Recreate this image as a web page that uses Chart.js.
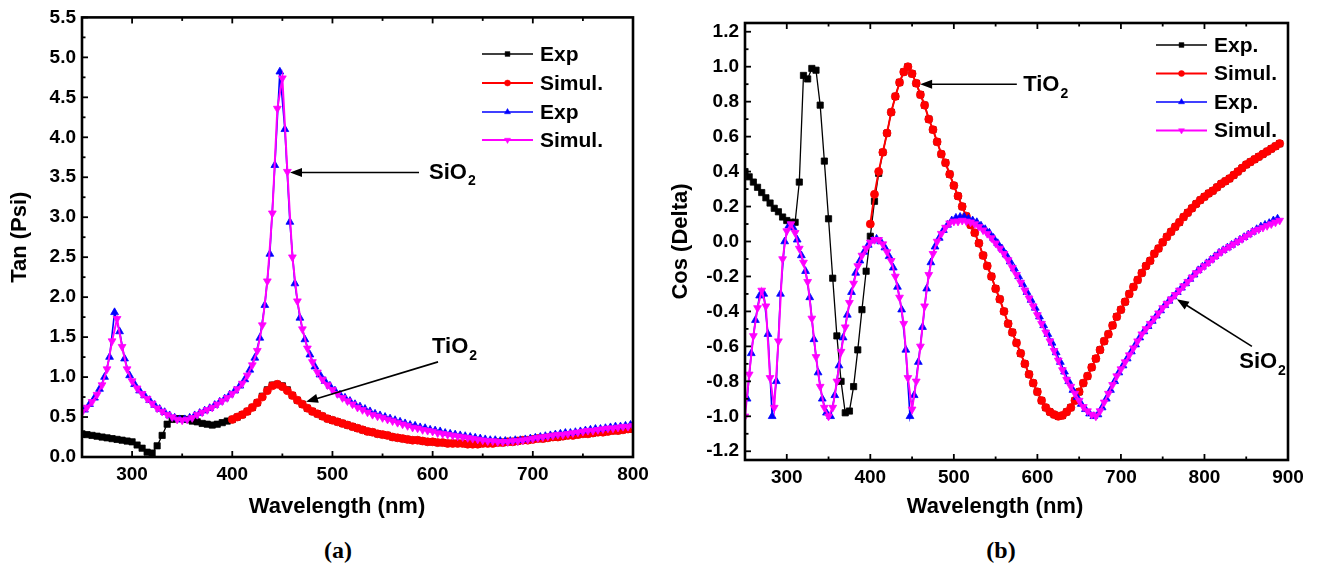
<!DOCTYPE html>
<html>
<head>
<meta charset="utf-8">
<script src="https://cdn.jsdelivr.net/npm/chart.js@4.4.0/dist/chart.umd.min.js"></script>
<style>
  html, body { margin: 0; padding: 0; background: #fff; }
  body { width: 1318px; height: 564px; position: relative; overflow: hidden; }
  .panel { position: absolute; top: 0; height: 530px; }
  #panelA { left: 0; width: 660px; }
  #panelB { left: 660px; width: 658px; }
  .caption { position: absolute; top: 537px; width: 60px; line-height: 28px; text-align: center;
             font: bold 24px "Liberation Serif", "Times New Roman", serif; color: #000; }
</style>
</head>
<body>
<div class="panel" id="panelA"><canvas id="chartA" width="660" height="530"></canvas></div>
<div class="panel" id="panelB"><canvas id="chartB" width="658" height="530"></canvas></div>
<div class="caption" style="left:308px">(a)</div>
<div class="caption" style="left:971px">(b)</div>
<script>
// wavelength step of every series (nm)
const STEP = 5;

// ---- (a) Tan (Psi) ----
const xTicksA = [300, 400, 500, 600, 700, 800];
const yTicksA = [0, 0.5, 1, 1.5, 2, 2.5, 3, 3.5, 4, 4.5, 5, 5.5];
const legendA = ['Exp', 'Simul.', 'Exp', 'Simul.'];

// TiO2 experiment, starts at 250 nm
const tanExpTiO2 = [
  0.29, 0.28, 0.27, 0.26, 0.25, 0.24, 0.23, 0.22, 0.21, 0.20,
  0.19, 0.15, 0.11, 0.06, 0.05, 0.14, 0.27, 0.41, 0.47, 0.48,
  0.48, 0.47, 0.45, 0.44, 0.42, 0.41, 0.40, 0.41, 0.43, 0.45,
  0.47, 0.50, 0.53, 0.57, 0.62, 0.68, 0.76, 0.84, 0.90, 0.91,
  0.89, 0.84, 0.77, 0.71, 0.66, 0.61, 0.57, 0.54, 0.51, 0.48,
  0.46, 0.44, 0.42, 0.40, 0.38, 0.36, 0.34, 0.32, 0.31, 0.29,
  0.28, 0.27, 0.25, 0.24, 0.23, 0.22, 0.21, 0.21, 0.20, 0.19,
  0.19, 0.18, 0.18, 0.17, 0.17, 0.17, 0.17, 0.16, 0.16, 0.16,
  0.17, 0.17, 0.17, 0.18, 0.18, 0.19, 0.19, 0.20, 0.21, 0.21,
  0.22, 0.23, 0.23, 0.24, 0.25, 0.25, 0.26, 0.27, 0.27, 0.28,
  0.29, 0.29, 0.30, 0.31, 0.31, 0.32, 0.33, 0.33, 0.34, 0.35,
  0.35
];
// TiO2 simulation, starts at 400 nm
const tanSimTiO2 = [
  0.47, 0.50, 0.53, 0.57, 0.62, 0.68, 0.75, 0.83, 0.89, 0.91,
  0.88, 0.83, 0.77, 0.71, 0.66, 0.61, 0.57, 0.54, 0.51, 0.48,
  0.46, 0.44, 0.42, 0.40, 0.38, 0.36, 0.34, 0.32, 0.31, 0.29,
  0.28, 0.27, 0.25, 0.24, 0.23, 0.22, 0.21, 0.21, 0.20, 0.19,
  0.19, 0.18, 0.18, 0.17, 0.17, 0.17, 0.17, 0.16, 0.16, 0.16,
  0.17, 0.17, 0.17, 0.18, 0.18, 0.19, 0.19, 0.20, 0.21, 0.21,
  0.22, 0.23, 0.23, 0.24, 0.25, 0.25, 0.26, 0.27, 0.27, 0.28,
  0.29, 0.29, 0.30, 0.31, 0.31, 0.32, 0.33, 0.33, 0.34, 0.35,
  0.35
];
// SiO2 experiment, starts at 252.5 nm
const tanExpSiO2 = [
  0.59, 0.66, 0.74, 0.85, 1.00, 1.25, 1.81, 1.57, 1.23, 1.02,
  0.91, 0.83, 0.77, 0.71, 0.65, 0.60, 0.56, 0.52, 0.49, 0.47,
  0.47, 0.49, 0.52, 0.55, 0.58, 0.61, 0.65, 0.69, 0.73, 0.78,
  0.83, 0.89, 0.97, 1.09, 1.24, 1.49, 1.90, 2.54, 3.65, 4.82,
  4.10, 2.94, 2.17, 1.74, 1.47, 1.28, 1.13, 1.03, 0.95, 0.89,
  0.83, 0.78, 0.74, 0.70, 0.66, 0.63, 0.60, 0.57, 0.54, 0.52,
  0.50, 0.48, 0.46, 0.44, 0.42, 0.40, 0.39, 0.37, 0.36, 0.34,
  0.33, 0.32, 0.30, 0.29, 0.28, 0.27, 0.26, 0.25, 0.24, 0.23,
  0.22, 0.21, 0.21, 0.20, 0.20, 0.20, 0.21, 0.21, 0.22, 0.23,
  0.24, 0.25, 0.26, 0.27, 0.28, 0.29, 0.30, 0.30, 0.31, 0.32,
  0.33, 0.34, 0.35, 0.35, 0.36, 0.37, 0.38, 0.38, 0.39, 0.40
];
// SiO2 simulation, starts at 250 nm
const tanSimSiO2 = [
  0.56, 0.62, 0.69, 0.78, 0.90, 1.10, 1.45, 1.73, 1.38, 1.10,
  0.95, 0.86, 0.79, 0.73, 0.67, 0.61, 0.57, 0.53, 0.50, 0.47,
  0.46, 0.47, 0.49, 0.53, 0.56, 0.59, 0.62, 0.66, 0.70, 0.74,
  0.79, 0.85, 0.92, 1.02, 1.15, 1.33, 1.65, 2.20, 3.05, 4.36,
  4.74, 3.57, 2.50, 1.95, 1.60, 1.36, 1.19, 1.06, 0.97, 0.90,
  0.84, 0.79, 0.74, 0.70, 0.66, 0.62, 0.59, 0.56, 0.53, 0.51,
  0.49, 0.47, 0.45, 0.43, 0.41, 0.39, 0.37, 0.36, 0.34, 0.33,
  0.32, 0.30, 0.29, 0.28, 0.27, 0.26, 0.25, 0.24, 0.23, 0.22,
  0.21, 0.20, 0.20, 0.19, 0.19, 0.19, 0.20, 0.20, 0.21, 0.22,
  0.23, 0.24, 0.25, 0.26, 0.27, 0.28, 0.28, 0.29, 0.30, 0.31,
  0.32, 0.33, 0.33, 0.34, 0.35, 0.36, 0.36, 0.37, 0.38, 0.38,
  0.39
];

// ---- (b) Cos (Delta) ----
const xTicksB = [300, 400, 500, 600, 700, 800, 900];
const yTicksB = [-1.2, -1.0, -0.8, -0.6, -0.4, -0.2, 0, 0.2, 0.4, 0.6, 0.8, 1.0, 1.2];
const legendB = ['Exp.', 'Simul.', 'Exp.', 'Simul.'];

// TiO2 experiment, starts at 250 nm
const cosExpTiO2 = [
  0.40, 0.37, 0.34, 0.31, 0.28, 0.25, 0.22, 0.19, 0.17, 0.14,
  0.12, 0.11, 0.11, 0.34, 0.95, 0.93, 0.99, 0.98, 0.78, 0.46,
  0.13, -0.21, -0.54, -0.80, -0.98, -0.97, -0.83, -0.62, -0.39, -0.17,
  0.03, 0.23, 0.39, 0.51, 0.62, 0.74, 0.83, 0.91, 0.97, 1.00,
  0.96, 0.905, 0.84, 0.78, 0.70, 0.64, 0.57, 0.50, 0.45, 0.385,
  0.32, 0.26, 0.20, 0.145, 0.095, 0.05, -0.01, -0.08, -0.14, -0.20,
  -0.27, -0.33, -0.40, -0.47, -0.52, -0.58, -0.64, -0.70, -0.76, -0.81,
  -0.86, -0.91, -0.95, -0.975, -0.99, -1.0, -0.995, -0.975, -0.95, -0.91,
  -0.86, -0.81, -0.77, -0.72, -0.67, -0.62, -0.57, -0.53, -0.48, -0.43,
  -0.39, -0.345, -0.30, -0.26, -0.22, -0.18, -0.14, -0.11, -0.07, -0.04,
  -0.005, 0.027, 0.056, 0.084, 0.11, 0.14, 0.165, 0.19, 0.215, 0.237,
  0.256, 0.275, 0.29, 0.31, 0.33, 0.345, 0.36, 0.38, 0.40, 0.42,
  0.44, 0.455, 0.47, 0.485, 0.50, 0.515, 0.53, 0.545, 0.56
];
// TiO2 simulation, starts at 400 nm
const cosSimTiO2 = [
  0.10, 0.27, 0.40, 0.51, 0.62, 0.74, 0.83, 0.91, 0.97, 1.00,
  0.96, 0.905, 0.84, 0.78, 0.70, 0.64, 0.57, 0.50, 0.45, 0.385,
  0.32, 0.26, 0.20, 0.145, 0.095, 0.05, -0.01, -0.08, -0.14, -0.20,
  -0.27, -0.33, -0.40, -0.47, -0.52, -0.58, -0.64, -0.70, -0.76, -0.81,
  -0.86, -0.91, -0.95, -0.975, -0.99, -1.0, -0.995, -0.975, -0.95, -0.91,
  -0.86, -0.81, -0.77, -0.72, -0.67, -0.62, -0.57, -0.53, -0.48, -0.43,
  -0.39, -0.345, -0.30, -0.26, -0.22, -0.18, -0.14, -0.11, -0.07, -0.04,
  -0.005, 0.027, 0.056, 0.084, 0.11, 0.14, 0.165, 0.19, 0.215, 0.237,
  0.256, 0.275, 0.29, 0.31, 0.33, 0.345, 0.36, 0.38, 0.40, 0.42,
  0.44, 0.455, 0.47, 0.485, 0.50, 0.515, 0.53, 0.545, 0.56
];
// SiO2 experiment, starts at 252.5 nm
const cosExpSiO2 = [
  -0.90, -0.64, -0.45, -0.31, -0.30, -0.53, -1.0, -0.80, -0.30, 0.0,
  0.09, 0.08, 0.01, -0.08, -0.17, -0.32, -0.56, -0.75, -0.90, -0.98,
  -1.0, -0.88, -0.71, -0.55, -0.42, -0.29, -0.18, -0.11, -0.06, -0.02,
  0.005, 0.015, 0.0, -0.035, -0.085, -0.15, -0.26, -0.39, -0.62, -1.0,
  -0.88, -0.69, -0.49, -0.27, -0.12, -0.03, 0.02, 0.065, 0.095, 0.12,
  0.135, 0.14, 0.14, 0.13, 0.12, 0.11, 0.09, 0.07, 0.05, 0.02,
  -0.01, -0.04, -0.075, -0.115, -0.155, -0.20, -0.245, -0.29, -0.335, -0.38,
  -0.43, -0.48, -0.53, -0.58, -0.635, -0.69, -0.745, -0.80, -0.85, -0.89,
  -0.93, -0.96, -0.985, -1.0, -0.99, -0.95, -0.90, -0.85, -0.80, -0.75,
  -0.71, -0.67, -0.63, -0.59, -0.55, -0.515, -0.485, -0.455, -0.425, -0.395,
  -0.365, -0.34, -0.315, -0.29, -0.265, -0.24, -0.215, -0.19, -0.165, -0.145,
  -0.125, -0.105, -0.085, -0.065, -0.05, -0.035, -0.02, -0.005, 0.01, 0.025,
  0.04, 0.055, 0.07, 0.085, 0.095, 0.105, 0.12, 0.13
];
// SiO2 simulation, starts at 250 nm
const cosSimSiO2 = [
  -1.0, -0.76, -0.54, -0.38, -0.28, -0.37, -0.78, -0.95, -0.57, -0.10,
  0.06, 0.10, 0.05, -0.04, -0.12, -0.23, -0.44, -0.66, -0.83, -0.95,
  -1.0, -0.95, -0.80, -0.63, -0.49, -0.35, -0.24, -0.14, -0.08, -0.04,
  -0.005, 0.01, 0.01, -0.015, -0.06, -0.11, -0.20, -0.32, -0.47, -0.78,
  -0.96, -0.80, -0.60, -0.37, -0.19, -0.07, 0.0, 0.045, 0.08, 0.105,
  0.115, 0.115, 0.12, 0.115, 0.11, 0.10, 0.085, 0.065, 0.045, 0.02,
  -0.01, -0.04, -0.07, -0.106, -0.15, -0.19, -0.235, -0.28, -0.325, -0.37,
  -0.42, -0.47, -0.52, -0.57, -0.625, -0.68, -0.735, -0.79, -0.83, -0.87,
  -0.91, -0.946, -0.97, -0.99, -1.0, -0.97, -0.92, -0.87, -0.82, -0.77,
  -0.73, -0.69, -0.65, -0.61, -0.57, -0.53, -0.50, -0.47, -0.44, -0.41,
  -0.38, -0.355, -0.33, -0.305, -0.28, -0.255, -0.23, -0.205, -0.18, -0.16,
  -0.14, -0.12, -0.10, -0.08, -0.06, -0.045, -0.03, -0.015, 0.0, 0.015,
  0.03, 0.045, 0.06, 0.07, 0.08, 0.09, 0.10, 0.11, 0.12
];

const FONT = '"Liberation Sans", Arial, Helvetica, sans-serif';

// black squares, red circles, blue up triangles, magenta down triangles
const STYLES = [
  { color: '#000000', width: 1.3, point: 'rect', radius: 4.4, rot: 0 },
  { color: '#ff0000', width: 2.0, point: 'circle', radius: 4.0, rot: 0 },
  { color: '#0000ff', width: 1.6, point: 'triangle', radius: 4.5, rot: 0 },
  { color: '#ff00ff', width: 2.0, point: 'triangle', radius: 4.5, rot: 180 }
];

function toPoints(start, values) {
  return values.map((v, i) => ({ x: start + i * STEP, y: v }));
}

function makeDataset(label, start, values, idx) {
  const s = STYLES[idx];
  return {
    label,
    data: toPoints(start, values),
    borderColor: s.color,
    backgroundColor: s.color,
    borderWidth: s.width,
    pointStyle: s.point,
    pointRadius: s.radius,
    pointRotation: s.rot,
    pointBackgroundColor: s.color,
    pointBorderColor: s.color,
    pointBorderWidth: 0.8,
    tension: 0,
    order: 4 - idx
  };
}

function line(ctx, x1, y1, x2, y2) {
  ctx.beginPath();
  ctx.moveTo(x1, y1);
  ctx.lineTo(x2, y2);
  ctx.stroke();
}

function nearMultiple(v, step) {
  return Math.abs(Math.round(v / step) * step - v) < 1e-6;
}

// frame, inward ticks, legend, arrows and x title
const decorPlugin = {
  id: 'decor',
  afterDraw(chart, args, opts) {
    const ctx = chart.ctx;
    const a = chart.chartArea;
    const xs = chart.scales.x;
    const ys = chart.scales.y;
    ctx.save();
    ctx.strokeStyle = '#000';
    ctx.fillStyle = '#000';

    // ticks
    ctx.lineWidth = 1.8;
    const x0 = Math.ceil(xs.min / opts.xMinor - 1e-9) * opts.xMinor;
    for (let v = x0; v <= xs.max + 1e-9; v += opts.xMinor) {
      const p = xs.getPixelForValue(v);
      const len = nearMultiple(v, opts.xMajor) ? 6 : 3.5;
      line(ctx, p, a.bottom, p, a.bottom - len);
      line(ctx, p, a.top, p, a.top + len);
    }
    const y0 = Math.ceil(ys.min / opts.yMinor - 1e-9) * opts.yMinor;
    for (let v = y0; v <= ys.max + 1e-9; v += opts.yMinor) {
      const p = ys.getPixelForValue(v);
      const len = nearMultiple(v, opts.yMajor) ? 6 : 3.5;
      line(ctx, a.left, p, a.left + len, p);
    }

    // frame
    ctx.lineWidth = 2.6;
    ctx.strokeRect(a.left, a.top, a.right - a.left, a.bottom - a.top);

    // legend
    const lg = opts.legend;
    chart.data.datasets.forEach((ds, i) => {
      const y = lg.rows[i];
      ctx.strokeStyle = ds.borderColor;
      ctx.lineWidth = ds.borderWidth;
      line(ctx, lg.x1, y, lg.x2, y);
      ctx.fillStyle = ds.pointBackgroundColor;
      ctx.strokeStyle = ds.pointBorderColor;
      ctx.lineWidth = 0.5;
      Chart.helpers.drawPoint(ctx, {
        pointStyle: ds.pointStyle, rotation: ds.pointRotation,
        radius: ds.pointRadius - 1, borderWidth: 0.5
      }, (lg.x1 + lg.x2) / 2, y);
      ctx.fillStyle = '#000';
      ctx.font = 'bold 21px ' + FONT;
      ctx.textAlign = 'left';
      ctx.textBaseline = 'middle';
      ctx.fillText(ds.label, lg.tx, y + 1);
    });

    // arrows with labels, anchored in data units
    ctx.strokeStyle = '#000';
    ctx.fillStyle = '#000';
    opts.arrows.forEach(ar => {
      const tx = xs.getPixelForValue(ar.tail[0]), ty = ys.getPixelForValue(ar.tail[1]);
      const hx = xs.getPixelForValue(ar.tip[0]), hy = ys.getPixelForValue(ar.tip[1]);
      const ang = Math.atan2(hy - ty, hx - tx);
      const L = 12, W = 4.5;
      ctx.lineWidth = 1.6;
      line(ctx, tx, ty, hx - Math.cos(ang) * (L - 2), hy - Math.sin(ang) * (L - 2));
      ctx.beginPath();
      ctx.moveTo(hx, hy);
      ctx.lineTo(hx - Math.cos(ang) * L - Math.sin(ang) * W, hy - Math.sin(ang) * L + Math.cos(ang) * W);
      ctx.lineTo(hx - Math.cos(ang) * L + Math.sin(ang) * W, hy - Math.sin(ang) * L - Math.cos(ang) * W);
      ctx.closePath();
      ctx.fill();

      const lx = xs.getPixelForValue(ar.label[0]), ly = ys.getPixelForValue(ar.label[1]);
      ctx.textAlign = 'left';
      ctx.textBaseline = 'middle';
      ctx.font = 'bold 22px ' + FONT;
      ctx.fillText(ar.text, lx, ly);
      const w = ctx.measureText(ar.text).width;
      ctx.font = 'bold 14px ' + FONT;
      ctx.fillText(ar.sub, lx + w + 1, ly + 9);
    });

    // x axis title
    ctx.font = 'bold 22px ' + FONT;
    ctx.textAlign = 'center';
    ctx.textBaseline = 'middle';
    ctx.fillText(opts.xTitle.text, opts.xTitle.x, opts.xTitle.y);
    ctx.restore();
  }
};

function makeChart(id, cfg) {
  return new Chart(document.getElementById(id), {
    type: 'line',
    data: { datasets: cfg.datasets },
    plugins: [decorPlugin],
    options: {
      responsive: false,
      animation: false,
      devicePixelRatio: 1,
      layout: { padding: cfg.padding },
      plugins: {
        legend: { display: false },
        tooltip: { enabled: false },
        decor: cfg.decor
      },
      scales: {
        x: {
          type: 'linear',
          min: cfg.xMin, max: cfg.xMax,
          grid: { display: false, drawTicks: false },
          border: { display: false },
          afterBuildTicks: s => { s.ticks = cfg.xTicks.map(v => ({ value: v })); },
          afterFit: s => { s.height = cfg.xHeight; },
          ticks: { color: '#000', padding: 6, maxRotation: 0, autoSkip: false,
                   font: { family: FONT, size: 19, weight: 'bold' } }
        },
        y: {
          type: 'linear',
          min: cfg.yMin, max: cfg.yMax,
          grid: { display: false, drawTicks: false },
          border: { display: false },
          afterBuildTicks: s => { s.ticks = cfg.yTicks.map(v => ({ value: v })); },
          afterFit: s => { s.width = cfg.yWidth; },
          ticks: { color: '#000', padding: 6, autoSkip: false,
                   callback: v => Number(v).toFixed(1),
                   font: { family: FONT, size: 19, weight: 'bold' } },
          title: { display: true, text: cfg.yTitle, color: '#000',
                   padding: { top: cfg.yTitlePad, bottom: 0 },
                   font: { family: FONT, size: 22, weight: 'bold' } }
        }
      }
    }
  });
}

makeChart('chartA', {
  datasets: [
    makeDataset(legendA[0], 250, tanExpTiO2, 0),
    makeDataset(legendA[1], 400, tanSimTiO2, 1),
    makeDataset(legendA[2], 252.5, tanExpSiO2, 2),
    makeDataset(legendA[3], 250, tanSimSiO2, 3)
  ],
  xMin: 250, xMax: 800, yMin: 0, yMax: 5.5,
  xTicks: xTicksA, yTicks: yTicksA,
  padding: { left: 0, right: 27, top: 17, bottom: 0 },
  xHeight: 73, yWidth: 82, yTitle: 'Tan (Psi)', yTitlePad: 7,
  decor: {
    xMajor: 100, xMinor: 50, yMajor: 0.5, yMinor: 0.25,
    legend: { x1: 482, x2: 533, tx: 540, rows: [54, 83, 112, 140] },
    arrows: [
      { tip: [457.6, 3.56], tail: [586.4, 3.56], label: [596.4, 3.56], text: 'SiO', sub: '2' },
      { tip: [473.6, 0.69], tail: [605.4, 1.19], label: [599.4, 1.375], text: 'TiO', sub: '2' }
    ],
    xTitle: { text: 'Wavelength (nm)', x: 337, y: 507 }
  }
});

makeChart('chartB', {
  datasets: [
    makeDataset(legendB[0], 250, cosExpTiO2, 0),
    makeDataset(legendB[1], 400, cosSimTiO2, 1),
    makeDataset(legendB[2], 252.5, cosExpSiO2, 2),
    makeDataset(legendB[3], 250, cosSimSiO2, 3)
  ],
  xMin: 250, xMax: 900, yMin: -1.25, yMax: 1.25,
  xTicks: xTicksB, yTicks: yTicksB,
  padding: { left: 0, right: 30, top: 23, bottom: 0 },
  xHeight: 70, yWidth: 85, yTitle: 'Cos (Delta)', yTitlePad: 8,
  decor: {
    xMajor: 100, xMinor: 50, yMajor: 0.2, yMinor: 0.1,
    legend: { x1: 496, x2: 547, tx: 554, rows: [45, 73.5, 102, 130.5] },
    arrows: [
      { tip: [459.6, 0.90], tail: [575.4, 0.90], label: [583, 0.895], text: 'TiO', sub: '2' },
      { tip: [767, -0.33], tail: [856.8, -0.60], label: [841.6, -0.69], text: 'SiO', sub: '2' }
    ],
    xTitle: { text: 'Wavelength (nm)', x: 335, y: 507 }
  }
});
</script>
</body>
</html>
